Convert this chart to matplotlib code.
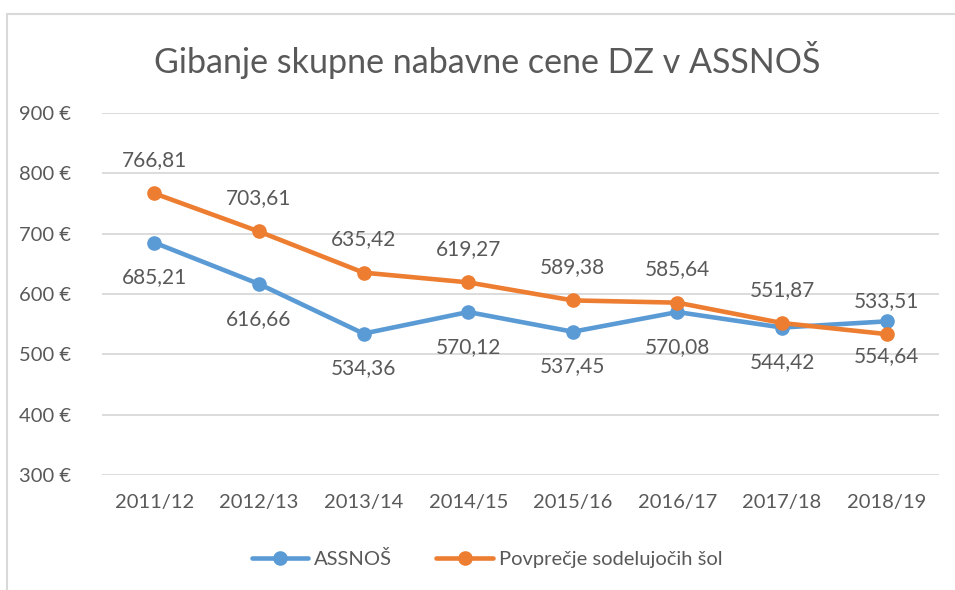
import matplotlib.pyplot as plt
from matplotlib.patches import Rectangle

# === DATA ===
years = ["2011/12", "2012/13", "2013/14", "2014/15", "2015/16", "2016/17", "2017/18", "2018/19"]
assnos = [685.21, 616.66, 534.36, 570.12, 537.45, 570.08, 544.42, 554.64]
povprecje = [766.81, 703.61, 635.42, 619.27, 589.38, 585.64, 551.87, 533.51]
y_ticks = [300, 400, 500, 600, 700, 800, 900]

blue = "#5B9BD5"
orange = "#ED7D31"
text_col = "#595959"
grid_col = "#D9D9D9"

plt.rcParams['font.family'] = ['Lato', 'DejaVu Sans']

fig = plt.figure(figsize=(9.55, 5.9), dpi=100)
ax = fig.add_axes([102 / 955, 1 - 475 / 590, 837 / 955, 362 / 590])

# chart border (cropped on right and bottom)
fig.patches.append(Rectangle((7 / 955, -0.1), 1.2, 1 - 14 / 590 + 0.1, transform=fig.transFigure,
                             fill=False, edgecolor=grid_col, linewidth=1.5))

x = list(range(len(years)))
ax.plot(x, assnos, color=blue, linewidth=3.3, marker='o', markersize=9.5, label="ASSNOŠ",
        solid_capstyle='round', zorder=3)
ax.plot(x, povprecje, color=orange, linewidth=3.3, marker='o', markersize=9.5,
        label="Povprečje sodelujočih šol", solid_capstyle='round', zorder=4)

def fmt(v):
    return f"{v:.2f}".replace(".", ",")

for i, v in enumerate(assnos):
    ax.annotate(fmt(v), (i, v), xytext=(0, -25), textcoords='offset points',
                ha='center', va='center', fontsize=15, color=text_col)
for i, v in enumerate(povprecje):
    ax.annotate(fmt(v), (i, v), xytext=(0, 24), textcoords='offset points',
                ha='center', va='center', fontsize=15, color=text_col)

ax.set_xlim(-0.5, len(years) - 0.5)
ax.set_ylim(300, 900)
ax.set_yticks(y_ticks)
ax.set_yticklabels([f"{t} €" for t in y_ticks])
ax.set_xticks(x)
ax.set_xticklabels(years)
ax.grid(axis='y', color=grid_col, linewidth=1.3)
ax.set_axisbelow(True)
for s in ax.spines.values():
    s.set_visible(False)
ax.tick_params(axis='both', length=0, labelsize=14.5, colors=text_col)
ax.tick_params(axis='y', pad=22)
ax.tick_params(axis='x', pad=14)

fig.text(487 / 955, 1 - 60 / 590, "Gibanje skupne nabavne cene DZ v ASSNOŠ", ha='center', va='center',
         fontsize=24.5, color=text_col)

fig.legend(loc='center', bbox_to_anchor=(0.51, 1 - 559 / 590), ncol=2, frameon=False,
           fontsize=14.5, labelcolor=text_col, handlelength=2.8, columnspacing=2.2, handletextpad=0.3)

fig.savefig("out.png", dpi=100, facecolor='white')
